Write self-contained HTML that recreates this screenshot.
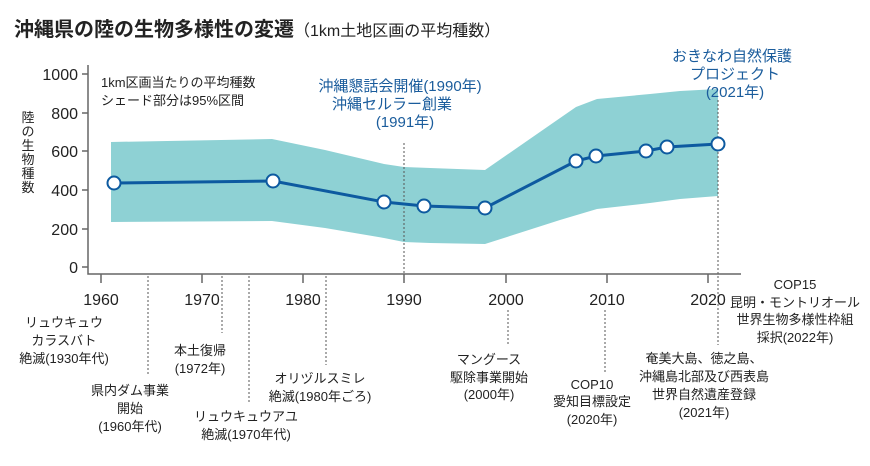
<!DOCTYPE html>
<html><head><meta charset="utf-8"><style>
body{margin:0;background:#fff;width:870px;height:461px;overflow:hidden}
svg text{font-family:"Liberation Sans","Noto Sans CJK JP",sans-serif}
</style></head><body>
<svg width="870" height="461" viewBox="0 0 870 461" xmlns="http://www.w3.org/2000/svg">
<text x="14" y="36" font-size="20" font-weight="bold" fill="#222">沖縄県の陸の生物多様性の変遷<tspan font-size="16" font-weight="normal">（1km土地区画の平均種数）</tspan></text>
<polygon fill="#8ed1d4" points="111,142 272,139 325,150 384,164 404,167 430,168 485,170 576,107 597,99 650,94 680,91 718,89 718,196 680,199 650,203 597,209 560,220 485,244 430,243 404,242 384,238 325,228 272,221 111,222"/>
<g stroke="#555" stroke-width="1" stroke-dasharray="2,2" fill="none">
<line x1="404" y1="143" x2="404" y2="274"/><line x1="718" y1="100" x2="718" y2="345"/>
<line x1="148" y1="276" x2="148" y2="375"/><line x1="222" y1="276" x2="222" y2="333"/>
<line x1="249" y1="276" x2="249" y2="402"/><line x1="326" y1="276" x2="326" y2="365"/>
<line x1="508" y1="310" x2="508" y2="345"/><line x1="605" y1="310" x2="605" y2="372"/>
</g>
<g stroke="#666" stroke-width="1.5" fill="none">
<path d="M88,65 V274 H741"/>
<path d="M82,74 H88 M82,113 H88 M82,151 H88 M82,190 H88 M82,229 H88 M82,267 H88"/>
<path d="M101,274 V283 M202,274 V283 M303,274 V283 M404,274 V283 M506,274 V283 M607,274 V283 M708,274 V283"/>
</g>
<g font-size="16" fill="#222" text-anchor="end">
<text x="78" y="80">1000</text><text x="78" y="119">800</text><text x="78" y="157">600</text><text x="78" y="196">400</text><text x="78" y="235">200</text><text x="78" y="273">0</text>
</g>
<g font-size="16" fill="#222" text-anchor="middle">
<text x="101" y="305">1960</text><text x="202" y="305">1970</text><text x="303" y="305">1980</text><text x="404" y="305">1990</text><text x="506" y="305">2000</text><text x="607" y="305">2010</text><text x="708" y="305">2020</text>
</g>
<g font-size="13" fill="#222" text-anchor="middle">
<text x="28" y="122">陸</text><text x="28" y="136">の</text><text x="28" y="150">生</text><text x="28" y="164">物</text><text x="28" y="178">種</text><text x="28" y="192">数</text>
</g>
<g font-size="13" fill="#222"><text x="101" y="87">1km区画当たりの平均種数</text><text x="101" y="105">シェード部分は95%区間</text></g>
<g font-size="15" fill="#1a5c9c" text-anchor="middle">
<text x="400" y="91">沖縄懇話会開催(1990年)</text><text x="392" y="109">沖縄セルラー創業</text><text x="405" y="127">(1991年)</text>
<text x="732" y="61">おきなわ自然保護</text><text x="735" y="79">プロジェクト</text><text x="735" y="97">(2021年)</text>
</g>
<polyline fill="none" stroke="#0d5aa0" stroke-width="3" points="114,183 273,181 384,202 424,206 485,208 576,161 596,156 646,151 667,147 718,144"/>
<g fill="#fff" stroke="#0d5aa0" stroke-width="2">
<circle cx="114" cy="183" r="6.5"/><circle cx="273" cy="181" r="6.5"/><circle cx="384" cy="202" r="6.5"/><circle cx="424" cy="206" r="6.5"/><circle cx="485" cy="208" r="6.5"/><circle cx="576" cy="161" r="6.5"/><circle cx="596" cy="156" r="6.5"/><circle cx="646" cy="151" r="6.5"/><circle cx="667" cy="147" r="6.5"/><circle cx="718" cy="144" r="6.5"/>
</g>
<g font-size="13" fill="#222" text-anchor="middle">
<text x="64" y="327">リュウキュウ</text><text x="64" y="345">カラスバト</text><text x="64" y="363">絶滅(1930年代)</text>
<text x="200" y="355">本土復帰</text><text x="200" y="373">(1972年)</text>
<text x="130" y="395">県内ダム事業</text><text x="130" y="413">開始</text><text x="130" y="431">(1960年代)</text>
<text x="246" y="421">リュウキュウアユ</text><text x="246" y="439">絶滅(1970年代)</text>
<text x="320" y="383">オリヅルスミレ</text><text x="320" y="401">絶滅(1980年ごろ)</text>
<text x="489" y="364">マングース</text><text x="489" y="382">駆除事業開始</text><text x="489" y="399">(2000年)</text>
<text x="592" y="389">COP10</text><text x="592" y="406">愛知目標設定</text><text x="592" y="424">(2020年)</text>
<text x="704" y="363">奄美大島、徳之島、</text><text x="704" y="381">沖縄島北部及び西表島</text><text x="704" y="399">世界自然遺産登録</text><text x="704" y="417">(2021年)</text>
<text x="795" y="289">COP15</text><text x="795" y="307">昆明・モントリオール</text><text x="795" y="324">世界生物多様性枠組</text><text x="795" y="342">採択(2022年)</text>
</g>
</svg>
</body></html>
